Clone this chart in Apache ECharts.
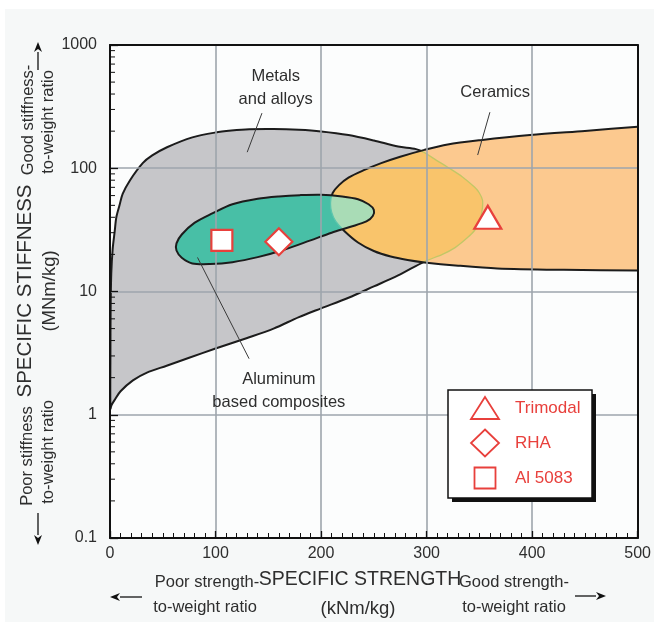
<!DOCTYPE html>
<html>
<head>
<meta charset="utf-8">
<title>Specific stiffness vs specific strength</title>
<script src="https://cdn.jsdelivr.net/npm/echarts@6/dist/echarts.min.js"></script>
<style>
  html, body { margin: 0; padding: 0; background: #fff; }
  #chart { width: 654px; height: 622px; }
</style>
</head>
<body>
<div id="chart"></div>
<script>
// Material property envelopes, as [specific strength (kNm/kg), specific stiffness (MNm/kg)]
const metalsEnvelope = [
  [0.4, 1.12], [1.5, 1.2], [4.7, 1.33], [10, 1.55], [21.7, 1.9], [35, 2.2], [53.7, 2.5],
  [75, 2.9], [100, 3.45], [130, 4.2], [155, 5.0], [179, 6.2], [200, 7.3], [226, 8.9],
  [250, 11], [273, 13.5], [298, 17.5], [315, 20], [327, 22.7], [338, 27], [345.6, 31.4],
  [350, 37], [352.5, 45], [353, 55], [350, 63], [345.6, 70], [334, 85], [320, 102],
  [308, 118], [298, 134], [290, 143], [273, 150], [250, 168], [226, 186], [200, 199],
  [179, 205], [155, 208], [132, 207], [115, 202], [100, 195], [78, 178], [54, 148],
  [40, 127], [31, 110], [19, 80], [12, 62], [9, 50], [6, 40], [4.5, 31], [2.5, 22],
  [1.2, 14], [0.6, 7], [0.4, 3]
];

const ceramicsEnvelope = [
  [505, 218], [500, 217], [450, 201], [398, 186], [351, 169], [320, 156], [298, 141],
  [275, 124], [257, 110], [240, 96], [226, 84], [217, 73], [211, 63], [209, 53],
  [210, 44], [214, 37], [222, 31], [235, 25], [250, 21.3], [266, 19.2], [282, 18],
  [298, 17.2], [330, 16.2], [367, 15.4], [430, 15], [500, 14.8], [505, 14.8]
];

const aluminumCompositesEnvelope = [
  [63, 24.6], [68, 29], [80, 36], [97, 43], [116, 51], [140, 56.5], [160, 59],
  [180, 60.5], [200, 61], [220, 59], [235, 56], [245, 51], [250, 46], [249, 41],
  [243, 37], [228, 33.5], [210, 30], [190, 26], [165, 21.8], [140, 19], [116, 17.3],
  [95, 16.7], [78, 16.9], [68, 18.8], [63, 21.5]
];

// Tested materials
const materialNames = ['Trimodal', 'RHA', 'Al 5083'];
const materialSymbols = ['triangle', 'diamond', 'rect'];
const trimodalPoint = [358, 40];
const rhaPoint = [160, 25.3];
const al5083Point = [106, 26];

// Axis ticks
const strengthTicks = [0, 100, 200, 300, 400, 500];
const stiffnessTicks = [0.1, 1, 10, 100, 1000];
const stiffnessMinorTicks = [
  0.2, 0.3, 0.4, 0.5, 0.6, 0.7, 0.8, 0.9,
  2, 3, 4, 5, 6, 7, 8, 9,
  20, 30, 40, 50, 60, 70, 80, 90,
  200, 300, 400, 500, 600, 700, 800, 900
];

// Region labels with their leader lines
const callouts = [
  { text: 'Metals\nand alloys', at: [157, 447], from: [144, 280], to: [130, 135] },
  { text: 'Ceramics', at: [365, 415], from: [360, 285], to: [348.4, 128] },
  { text: 'Aluminum\nbased composites', at: [160, 1.57], from: [131.8, 2.85], to: [82.9, 18.9] }
];

const FONT = '"Liberation Sans", Arial, Helvetica, sans-serif';
const INK = '#2e2e2e';
const OUTLINE = '#1c1c1c';
const GRAY = '#c6c6c9';
const PEACH = '#fcc98f';
const ORANGE = '#f9c46b';
const TEAL = '#48bfa6';
const MINT = '#a9dcb6';
const MARK_RED = '#e8403c';
const SMOOTH = 0.3;

function toPx(api, pts) { return pts.map(p => api.coord(p)); }
function polyShape(points) { return { points: points, smooth: SMOOTH }; }
function poly(points, style) { return { type: 'polygon', shape: polyShape(points), style: style }; }

const chart = echarts.init(document.getElementById('chart'));

const axisFrame = { show: true, onZero: false, lineStyle: { color: '#111', width: 2 } };
const gridLines = { show: true, lineStyle: { color: '#9ea5ac', width: 1.6 } };

function t(text, x, y, size, rotate) {
  return {
    type: 'text', x: x, y: y, rotation: rotate ? Math.PI / 2 : 0, silent: true,
    style: { text: text, font: size + 'px ' + FONT, fill: INK, align: 'center', verticalAlign: 'middle' }
  };
}
function arrow(x1, y1, x2, y2) {
  const dx = x2 - x1, dy = y2 - y1, len = Math.hypot(dx, dy);
  const ux = dx / len, uy = dy / len, hl = 10, hw = 4;
  const bx = x2 - ux * hl, by = y2 - uy * hl;
  return [
    { type: 'line', silent: true, shape: { x1: x1, y1: y1, x2: bx, y2: by }, style: { stroke: '#111', lineWidth: 1.3 } },
    { type: 'polygon', silent: true, shape: { points: [[x2, y2], [bx - uy * hw, by + ux * hw], [bx + ux * 3, by + uy * 3], [bx + uy * hw, by - ux * hw]] }, style: { fill: '#111' } }
  ];
}

// Outline marker shapes centred on (cx, cy), used in the key box
function keyMarker(kind, cx, cy) {
  const style = { fill: '#fff', stroke: MARK_RED, lineWidth: 1.8 };
  if (kind === 'triangle') {
    return { type: 'polygon', z: 50, shape: { points: [[cx, cy - 11], [cx + 14, cy + 11], [cx - 14, cy + 11]] }, style: style };
  }
  if (kind === 'diamond') {
    return { type: 'polygon', z: 50, shape: { points: [[cx, cy - 13.5], [cx + 14, cy], [cx, cy + 13.5], [cx - 14, cy]] }, style: style };
  }
  return { type: 'rect', z: 50, shape: { x: cx - 10.5, y: cy - 10.5, width: 21, height: 21 }, style: style };
}

// Boxed key for the tested materials, drawn above the grid lines
const keyLeft = 448, keyTop = 390, keyW = 144, keyH = 108;
const keyElements = [
  { type: 'rect', z: 48, silent: true, shape: { x: keyLeft + 4, y: keyTop + 4, width: keyW, height: keyH }, style: { fill: '#111' } },
  { type: 'rect', z: 49, silent: true, shape: { x: keyLeft, y: keyTop, width: keyW, height: keyH }, style: { fill: '#fff', stroke: '#111', lineWidth: 1.5 } }
];
materialNames.forEach((name, i) => {
  const cy = keyTop + 18 + i * 35;
  keyElements.push(keyMarker(materialSymbols[i], keyLeft + 37, cy));
  keyElements.push({
    type: 'text', z: 50, silent: true, x: keyLeft + 67, y: cy,
    style: { text: name, font: '17px ' + FONT, fill: MARK_RED, align: 'left', verticalAlign: 'middle' }
  });
});

const markerStyle = { color: '#fff', borderColor: MARK_RED, borderWidth: 2.2, opacity: 1 };

const option = {
  backgroundColor: '#f6f8f8',
  animation: false,
  textStyle: { fontFamily: FONT },
  grid: { left: 110, top: 45, width: 531, height: 493, show: true, backgroundColor: '#fcfdfd', borderWidth: 0 },
  xAxis: [
    {
      type: 'value', min: strengthTicks[0], max: strengthTicks[strengthTicks.length - 1], interval: 100, z: 5,
      axisLine: axisFrame,
      axisTick: { show: true, inside: true, length: 7, lineStyle: { color: '#111', width: 1.3 } },
      minorTick: { show: true, splitNumber: 10, length: 5, lineStyle: { color: '#111', width: 1 } },
      axisLabel: { color: INK, fontSize: 16, margin: 8, formatter: v => String(v) },
      splitLine: gridLines
    },
    {
      type: 'value', position: 'top', min: 0, max: 500, z: 5,
      axisLine: axisFrame, axisTick: { show: false }, axisLabel: { show: false }, splitLine: { show: false }
    }
  ],
  yAxis: [
    {
      type: 'log', logBase: 10, min: stiffnessTicks[0], max: stiffnessTicks[stiffnessTicks.length - 1], z: 5,
      axisLine: axisFrame,
      axisTick: { show: true, inside: true, length: 8, lineStyle: { color: '#111', width: 1.3 } },
      axisLabel: { color: INK, fontSize: 16, margin: 13, formatter: v => String(+Number(v).toPrecision(6)) },
      splitLine: gridLines
    },
    {
      type: 'value', position: 'right', min: 0, max: 1, z: 5,
      axisLine: axisFrame, axisTick: { show: false }, axisLabel: { show: false }, splitLine: { show: false }
    }
  ],
  graphic: {
    elements: [
      { type: 'rect', silent: true, z: -10, shape: { x: 0, y: 0, width: 654, height: 9 }, style: { fill: '#fff' } },
      { type: 'rect', silent: true, z: -10, shape: { x: 0, y: 0, width: 5, height: 622 }, style: { fill: '#fff' } },
      t('Poor stiffness', 27, 456, 16.5, true),
      t('SPECIFIC STIFFNESS', 25, 291, 20.5, true),
      t('Good stiffness-', 28, 120, 16.5, true),
      t('to-weight ratio', 48, 452, 16.5, true),
      t('(MNm/kg)', 50, 291, 18.5, true),
      t('to-weight ratio', 48, 122, 16.5, true),
      t('Poor strength-', 207, 582, 16.5),
      t('SPECIFIC STRENGTH', 360, 580, 19.5),
      t('Good strength-', 514, 582, 16.5),
      t('to-weight ratio', 205, 607, 16.5),
      t('(kNm/kg)', 358, 609, 18.5),
      t('to-weight ratio', 514, 607, 16.5)
    ].concat(arrow(142, 597, 110, 597), arrow(575, 596, 606, 596),
             arrow(38, 70, 38, 42), arrow(38, 513, 38, 545), keyElements)
  },
  series: [
    {
      // Metals and alloys envelope
      type: 'custom', name: 'Metals and alloys', z: 2, clip: true, silent: true,
      data: metalsEnvelope,
      renderItem: (params, api) => {
        if (params.dataIndex !== 0) return null;
        return poly(toPx(api, metalsEnvelope), { fill: GRAY, stroke: OUTLINE, lineWidth: 2 });
      }
    },
    {
      // Ceramics envelope; where it covers metals it shows a deeper orange
      type: 'custom', name: 'Ceramics', z: 3, clip: true, silent: true,
      data: ceramicsEnvelope,
      renderItem: (params, api) => {
        if (params.dataIndex !== 0) return null;
        const m = toPx(api, metalsEnvelope), c = toPx(api, ceramicsEnvelope);
        return {
          type: 'group',
          children: [
            poly(c, { fill: PEACH }),
            { type: 'group', clipPath: { type: 'polygon', shape: polyShape(c) },
              children: [poly(m, { fill: ORANGE, stroke: '#c2c766', lineWidth: 1.3 })] },
            poly(c, { fill: 'none', stroke: OUTLINE, lineWidth: 2 })
          ]
        };
      }
    },
    {
      // Aluminium based composites envelope; lighter where it covers ceramics
      type: 'custom', name: 'Aluminum based composites', z: 4, clip: true, silent: true,
      data: aluminumCompositesEnvelope,
      renderItem: (params, api) => {
        if (params.dataIndex !== 0) return null;
        const a = toPx(api, aluminumCompositesEnvelope), c = toPx(api, ceramicsEnvelope);
        return {
          type: 'group',
          children: [
            poly(a, { fill: TEAL }),
            { type: 'group', clipPath: { type: 'polygon', shape: polyShape(c) },
              children: [poly(a, { fill: MINT })] },
            { type: 'group', clipPath: { type: 'polygon', shape: polyShape(a) },
              children: [poly(c, { fill: 'none', stroke: '#5cc6ad', lineWidth: 1.3 })] },
            poly(a, { fill: 'none', stroke: OUTLINE, lineWidth: 2 })
          ]
        };
      }
    },
    {
      // Log-decade minor ticks on the stiffness axis
      type: 'custom', z: 6, clip: false, silent: true,
      data: stiffnessMinorTicks.map(v => [strengthTicks[0], v]),
      renderItem: (params, api) => {
        const p = api.coord([api.value(0), api.value(1)]);
        return { type: 'line', shape: { x1: p[0], y1: p[1], x2: p[0] + 5, y2: p[1] }, style: { stroke: '#111', lineWidth: 1 } };
      }
    },
    {
      // Region labels and leader lines
      type: 'custom', z: 7, clip: false, silent: true,
      data: callouts.map((c, i) => [c.at[0], c.at[1], i]),
      renderItem: (params, api) => {
        const c = callouts[params.dataIndex];
        const p = api.coord(c.at), f = api.coord(c.from), e = api.coord(c.to);
        return {
          type: 'group',
          children: [
            { type: 'line', shape: { x1: f[0], y1: f[1], x2: e[0], y2: e[1] }, style: { stroke: '#3a3a3a', lineWidth: 1 } },
            { type: 'text', x: p[0], y: p[1],
              style: { text: c.text, font: '16.5px ' + FONT, fill: INK, align: 'center', verticalAlign: 'middle', lineHeight: 23 } }
          ]
        };
      }
    },
    {
      type: 'scatter', name: materialNames[0], z: 8, data: [trimodalPoint],
      symbol: materialSymbols[0], symbolSize: [27, 23], itemStyle: markerStyle
    },
    {
      type: 'scatter', name: materialNames[1], z: 8, data: [rhaPoint],
      symbol: materialSymbols[1], symbolSize: [27, 27], itemStyle: markerStyle
    },
    {
      type: 'scatter', name: materialNames[2], z: 8, data: [al5083Point],
      symbol: materialSymbols[2], symbolSize: [21, 21], itemStyle: markerStyle
    }
  ]
};

chart.setOption(option);
</script>
</body>
</html>
